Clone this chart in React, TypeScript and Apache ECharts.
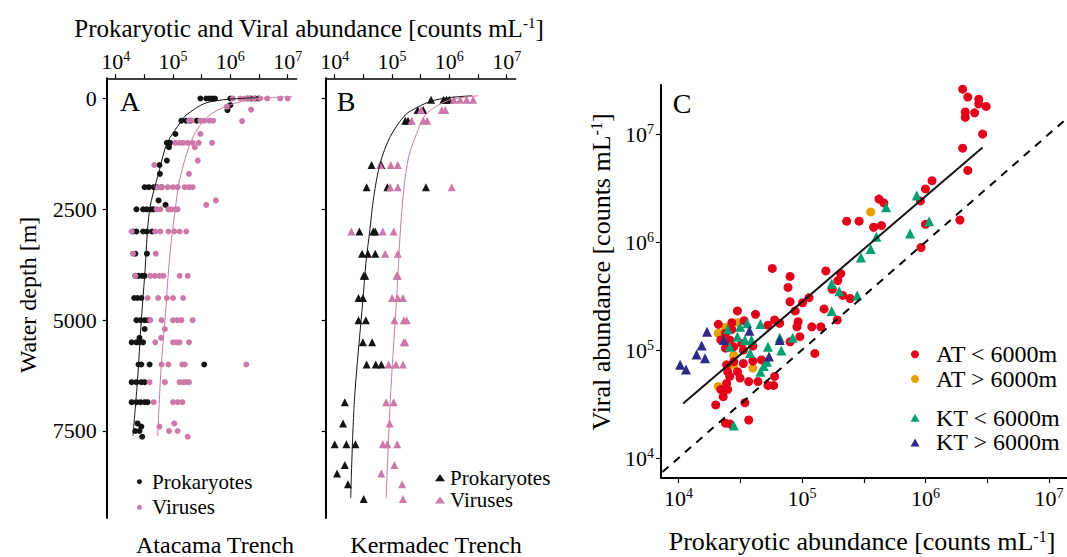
import React, { useEffect, useRef } from "react";
import * as echarts from "echarts";

// ---------------- data ----------------
const depthTicks = [0, 2500, 5000, 7500]; // m
const decadeTicks = [4, 5, 6, 7]; // exponents, labelled 10^n
const halfDecadeTicks = [4, 4.5, 5, 5.5, 6, 6.5, 7];

// [depth m, counts mL-1]
const atacamaProkaryotes: [number, number][] = [
  [0, 3.0e5], [0, 3.8e5], [0, 4.3e5], [0, 4.8e5], [0, 5.4e5], [0, 1.0e6], [0, 2.0e6], [0, 2.3e6], [0, 2.7e6], [0, 3.1e6],
  [150, 1.0e6], [260, 8.9e5],
  [500, 1.4e5], [500, 1.7e5], [500, 2.0e5], [500, 2.6e5], [800, 1.1e5],
  [1000, 7.8e4], [1000, 8.9e4], [1100, 8.5e4], [1400, 7.8e4], [1500, 5.8e4], [1700, 5.9e4],
  [2000, 3.2e4], [2000, 3.8e4], [2000, 4.6e4], [2000, 5.2e4], [2000, 6.3e4], [2300, 5.6e4], [2400, 7.4e4],
  [2500, 2.3e4], [2500, 3.0e4], [2500, 3.5e4], [2500, 4.2e4], [2500, 4.6e4],
  [3000, 2.0e4], [3000, 2.3e4], [3000, 3.0e4], [3000, 3.5e4], [3000, 4.3e4],
  [3500, 2.2e4], [3500, 3.5e4],
  [4000, 2.2e4], [4000, 2.5e4], [4000, 2.9e4], [4000, 3.2e4],
  [4500, 2.1e4], [4500, 2.4e4], [4500, 2.8e4],
  [5000, 2.3e4], [5000, 2.7e4], [5000, 3.2e4], [5000, 3.7e4], [5200, 3.2e4], [5400, 2.6e4],
  [5500, 1.9e4], [5500, 2.3e4], [5500, 2.6e4], [5500, 3.0e4],
  [6000, 2.5e4], [6000, 2.8e4], [6000, 3.9e4], [6000, 3.5e5],
  [6400, 1.9e4], [6400, 2.3e4], [6400, 2.8e4], [6400, 3.2e4],
  [6850, 1.9e4], [6850, 2.3e4], [6850, 2.7e4], [6850, 3.2e4], [6850, 3.6e4],
  [7330, 2.4e4], [7400, 2.8e4], [7500, 2.2e4], [7500, 2.6e4], [7630, 2.9e4],
];

const atacamaViruses: [number, number][] = [
  [0, 1.1e6], [0, 1.5e6], [0, 1.8e6], [0, 2.1e6], [0, 2.6e6], [0, 3.3e6], [0, 4.4e6], [0, 7.4e6], [0, 1.0e7],
  [185, 8.7e5], [250, 2.3e6], [510, 1.6e6],
  [500, 1.9e5], [500, 2.1e5], [500, 3.0e5], [500, 3.5e5], [500, 4.3e5], [500, 5.0e5], [800, 3.0e5],
  [1000, 1.1e5], [1000, 1.3e5], [1000, 1.5e5], [1000, 1.8e5], [1000, 2.2e5], [1000, 2.8e5], [1000, 4.8e5],
  [1100, 2.4e5], [1400, 2.7e5], [1500, 4.7e4], [1700, 1.9e5],
  [2000, 5.2e4], [2000, 6.3e4], [2000, 8.1e4], [2000, 1.0e5], [2000, 1.2e5], [2000, 1.6e5], [2000, 1.9e5], [2000, 2.2e5],
  [2300, 5.6e5], [2400, 3.8e5],
  [2500, 5.2e4], [2500, 6.0e4], [2500, 8.3e4], [2500, 9.3e4], [2500, 1.1e5], [2500, 1.2e5],
  [3000, 1.9e4], [3000, 4.9e4], [3000, 6.0e4], [3000, 8.3e4], [3000, 1.05e5], [3000, 1.3e5], [3000, 1.7e5],
  [3500, 2.0e4], [3500, 5.0e4],
  [4000, 2.2e4], [4000, 4.0e4], [4000, 4.8e4], [4000, 5.8e4], [4000, 6.8e4], [4000, 1.3e5], [4000, 1.8e5],
  [4500, 3.6e4], [4500, 5.5e4], [4500, 7.8e4], [4500, 1.0e5], [4500, 1.5e5],
  [5000, 4.0e4], [5000, 6.3e4], [5000, 1.0e5], [5000, 1.2e5], [5000, 1.4e5], [5000, 2.2e5],
  [5200, 7.2e4], [5400, 6.2e4],
  [5500, 4.9e4], [5500, 1.0e5], [5500, 1.15e5], [5500, 1.3e5], [5500, 1.9e5],
  [6000, 6.3e4], [6000, 8.3e4], [6000, 1.45e5], [6000, 1.6e5], [6000, 1.9e6],
  [6400, 3.9e4], [6400, 7.2e4], [6400, 1.3e5], [6400, 1.5e5], [6400, 1.7e5], [6400, 1.9e5],
  [6850, 4.6e4], [6850, 1.0e5], [6850, 1.2e5], [6850, 1.45e5],
  [7330, 1.05e5], [7400, 5.8e4], [7500, 8.5e4], [7500, 1.2e5], [7630, 1.8e5],
];

const atacamaProkFit: [number, number][] = [
  [-18, 3.1e6], [18, 9.1e5], [108, 3.6e5], [372, 1.7e5], [508, 1.4e5], [1004, 7.9e4], [1613, 5.8e4],
  [2515, 3.9e4], [4004, 3.2e4], [5000, 2.8e4], [6350, 2.4e4], [7610, 2.0e4],
];
const atacamaVirFit: [number, number][] = [
  [-41, 1.2e7], [-5, 3.5e6], [108, 1.2e6], [350, 4.6e5], [711, 2.6e5], [1087, 1.9e5], [1838, 1.3e5],
  [2590, 1.07e5], [3343, 9.1e4], [4094, 8.1e4], [4846, 7.4e4], [6050, 6.2e4], [7613, 5.4e4],
];

const kermadecProkaryotes: [number, number][] = [
  [30, 4.8e5], [30, 7.9e5], [30, 8.9e5], [30, 1.0e6],
  [260, 2.8e5], [260, 3.5e5], [500, 1.7e5], [500, 1.9e5],
  [1500, 4.4e4], [1500, 6.5e4],
  [2000, 3.6e4], [2000, 8.3e4], [2000, 3.9e5],
  [3000, 2.7e4], [3000, 4.7e4], [3000, 5.1e4],
  [3500, 3.0e4], [3500, 3.8e4], [3500, 5.1e4],
  [4000, 3.2e4], [4000, 3.4e4],
  [4500, 2.6e4], [4500, 3.1e4],
  [5000, 2.6e4], [5000, 3.5e4],
  [5500, 3.1e4], [5500, 4.5e4],
  [6000, 3.6e4], [6000, 5.2e4], [6000, 6.5e4],
  [6850, 1.5e4], [7330, 1.4e4],
  [7800, 1.0e4], [7800, 1.6e4], [7800, 2.3e4],
  [8270, 1.5e4], [8460, 1.1e4], [8700, 1.7e4], [9035, 3.2e4],
];

const kermadecViruses: [number, number][] = [
  [30, 1.2e6], [30, 1.55e6], [30, 2.0e6], [30, 2.6e6],
  [260, 3.2e5], [260, 7.4e5], [260, 8.5e5],
  [500, 2.2e5], [500, 3.5e5], [500, 4.1e5],
  [1500, 6.2e4], [1500, 9.5e4], [1500, 1.26e5],
  [2000, 9.3e4], [2000, 1.26e5], [2000, 1.1e6],
  [3000, 1.95e4], [3000, 6.9e4], [3000, 1.07e5],
  [3500, 7.6e4], [3500, 1.26e5],
  [4000, 1.2e5], [4000, 1.26e5],
  [4500, 1.0e5], [4500, 1.26e5], [4500, 1.55e5],
  [5000, 1.1e5], [5000, 1.6e5], [5000, 1.8e5],
  [5500, 1.6e5], [5500, 1.7e5],
  [6000, 8.7e4], [6000, 1.17e5], [6000, 1.55e5],
  [6850, 7.9e4], [6850, 1.07e5], [7330, 9.1e4],
  [7800, 6.9e4], [7800, 8.3e4], [7800, 1.23e5],
  [8270, 1.1e5], [8460, 6.5e4], [8700, 1.5e5], [9035, 1.55e5],
];

const kermadecProkFit: [number, number][] = [
  [-63, 2.5e6], [-18, 9.5e5], [56, 4.9e5], [185, 2.9e5], [372, 1.7e5], [861, 9.3e4], [1462, 6.2e4],
  [2215, 4.8e4], [2966, 4.1e4], [3718, 3.5e4], [4545, 3.1e4], [6840, 2.2e4], [9019, 1.9e4],
];
const kermadecVirFit: [number, number][] = [
  [-63, 3.2e6], [18, 1.1e6], [147, 6.5e5], [372, 3.8e5], [785, 2.7e5], [1313, 1.95e5], [2064, 1.6e5],
  [2966, 1.4e5], [3718, 1.3e5], [4500, 1.2e5], [6840, 9.3e4], [9019, 7.9e4],
];

// [prokaryotic counts mL-1, viral counts mL-1]
const atShallow: [number, number][] = [
  [2.0e6, 2.6e7], [2.2e6, 2.2e7], [2.7e6, 2.1e7], [2.7e6, 1.9e7], [3.1e6, 1.8e7], [2.1e6, 1.6e7], [2.5e6, 1.57e7],
  [2.1e6, 1.43e7], [2.9e6, 1.0e7], [2.0e6, 7.4e6], [2.2e6, 4.6e6], [1.13e6, 3.7e6], [1.0e6, 3.1e6], [4.2e5, 2.5e6],
  [4.6e5, 2.3e6], [9.1e5, 2.4e6], [2.3e5, 1.56e6], [2.9e5, 1.56e6], [3.8e5, 1.37e6], [4.4e5, 1.42e6], [1.0e6, 1.46e6],
  [1.9e6, 1.6e6], [9.2e5, 8.9e5], [1.56e5, 5.4e5], [2.06e5, 5.1e5], [1.95e5, 4.4e5], [1.76e5, 3.65e5], [2.14e5, 3.2e5],
  [2.45e5, 3.0e5], [1.14e5, 3.05e5], [1.01e5, 2.74e5], [1.51e5, 2.4e5], [1.93e5, 1.9e5], [1.2e5, 1.64e5], [1.42e5, 1.64e5],
  [5.75e4, 5.7e5], [8.0e4, 4.8e5], [7.7e4, 3.8e5], [8.0e4, 2.8e5], [8.8e4, 2.3e5], [9.3e4, 1.83e5], [3.0e4, 2.3e5],
  [4.2e4, 2.14e5], [6.0e4, 1.9e5], [5.3e4, 1.7e5], [6.6e4, 1.77e5], [9.1e4, 1.64e5], [9.6e4, 1.33e5], [8.0e4, 1.19e5],
  [1.27e5, 9.3e4], [3.4e4, 1.87e5], [2.1e4, 1.73e5], [2.7e4, 1.79e5], [2.4e4, 1.43e5], [2.2e4, 1.24e5], [2.6e4, 1.24e5],
  [3.25e4, 1.15e5], [4.0e4, 1.09e5], [2.4e4, 1.04e5], [2.8e4, 1.07e5], [3.35e4, 1.0e5], [2.8e4, 7.8e4], [3.35e4, 7.5e4],
  [4.0e4, 7.9e4], [4.7e4, 8.1e4], [2.45e4, 7.3e4], [2.5e4, 6.3e4], [3.0e4, 6.3e4], [2.6e4, 5.7e4], [3.15e4, 5.5e4],
  [3.7e4, 5.1e4], [4.4e4, 5.1e4], [2.45e4, 4.9e4], [2.2e4, 4.3e4], [2.5e4, 4.3e4], [2.3e4, 3.7e4], [5.3e4, 4.7e4],
  [5.9e4, 4.7e4], [6.0e4, 5.7e4], [2.0e4, 3.1e4], [3.45e4, 3.25e4], [3.7e4, 2.25e4], [2.4e4, 2.1e4], [2.6e4, 2.07e4],
  [2.7e4, 1.55e5],
];
const atDeep: [number, number][] = [
  [3.6e5, 1.9e6], [2.4e4, 1.62e5], [2.1e4, 1.43e5], [3.0e4, 1.8e5], [2.8e4, 8.9e4], [2.8e4, 7.3e4], [4.0e4, 6.8e4],
  [2.1e4, 4.6e4],
];
const ktShallow: [number, number][] = [
  [8.5e5, 2.7e6], [4.8e5, 2.1e6], [1.07e6, 1.56e6], [7.5e5, 1.2e6], [4.0e5, 1.12e6], [3.6e5, 8.6e5], [3.0e5, 7.2e5],
  [1.74e5, 4.1e5], [2.0e5, 3.5e5], [2.8e5, 3.2e5], [1.74e5, 2.3e5],
  [2.5e4, 1.56e5], [3.15e4, 1.64e5], [3.6e4, 1.77e5], [4.6e4, 1.74e5], [3.0e4, 1.33e5], [3.45e4, 1.24e5],
  [3.9e4, 1.24e5], [2.6e4, 1.07e5], [3.8e4, 9.4e4], [6.6e4, 1.3e5], [8.4e4, 1.3e5], [6.8e4, 9.9e4], [5.3e4, 1.07e5],
  [5.2e4, 7.8e4], [4.9e4, 7.1e4], [4.6e4, 6.3e4], [2.8e4, 2.0e4],
];
const ktDeep: [number, number][] = [
  [1.7e4, 1.48e5], [1.54e4, 1.1e5], [1.4e4, 9.1e4], [1.64e4, 8.4e4], [1.03e4, 7.3e4], [1.15e4, 6.6e4],
  [2.33e4, 1.24e5], [3.75e4, 1.51e5], [5.4e4, 8.7e4], [6.6e4, 1.24e5],
];
const regressionLine: [number, number][] = [[1.09e4, 3.2e4], [2.9e6, 7.5e6]];
const oneToOneLine: [number, number][] = [[6.0e3, 6.0e3], [1.6e7, 1.6e7]];

// ---------------- style ----------------
const FONT = '"Liberation Serif", "Times New Roman", serif';
const BLACK = "#141414";
const PINK = "#CC79A7";
const RED = "#E2001A";
const ORANGE = "#E69F00";
const GREEN = "#009E73";
const NAVY = "#2E2A85";

const depthXY = (arr: [number, number][]) => arr.map(([d, c]) => [Math.log10(c), d]);
const logXY = (arr: [number, number][]) => arr.map(([p, v]) => [Math.log10(p), Math.log10(v)]);

const pow10 = (v: number) => `{b|10}{s|${Math.round(v)}}`;
const tickRich = {
  b: { fontSize: 22, fontFamily: FONT, color: "#000", lineHeight: 24 },
  s: { fontSize: 14, fontFamily: FONT, color: "#000", lineHeight: 13, verticalAlign: "top" },
};
const supRich = (size: number) => ({
  s: { fontSize: Math.round(size * 0.6), fontFamily: FONT, fill: "#000", lineHeight: Math.round(size * 0.55), verticalAlign: "top" },
});

function depthGrid(index: number) {
  return {
    x: {
      gridIndex: index, type: "value", position: "top", min: 3.843, max: 7.157,
      axisLine: { show: true, onZero: false, lineStyle: { color: "#000", width: 1.5 } },
      axisTick: { show: true, inside: false, length: 4, customValues: halfDecadeTicks, lineStyle: { color: "#000", width: 1.2 } },
      axisLabel: { show: true, customValues: decadeTicks, formatter: pow10, rich: tickRich, margin: 5 },
      splitLine: { show: false },
    },
    y: {
      gridIndex: index, type: "value", inverse: true, min: -456, max: 9463,
      axisLine: { show: true, onZero: false, lineStyle: { color: "#000", width: 2 } },
      axisTick: { show: true, inside: false, length: 4, customValues: depthTicks, lineStyle: { color: "#000", width: 1.2 } },
      axisLabel: {
        show: index === 0, customValues: depthTicks, formatter: (v: number) => String(v),
        fontSize: 22, fontFamily: FONT, color: "#000", margin: 10,
      },
      splitLine: { show: false },
    },
  };
}

function text(x: number, y: number, t: string, size: number, extra: any = {}) {
  return {
    type: "text", x, y, ...extra,
    style: { text: t, fontSize: size, fontFamily: FONT, fill: "#000", align: extra.align || "center", verticalAlign: "middle", rich: supRich(size) },
  };
}

const solid = (color: string) => ({ color, opacity: 1 });

function buildOption(): any {
  const gA = depthGrid(0);
  const gB = depthGrid(1);
  const scatterBase = { type: "scatter", symbol: "circle" };
  return {
    animation: false,
    backgroundColor: "#fff",
    grid: [
      { left: 106.7, top: 78.3, width: 190, height: 439.7 },
      { left: 325.7, top: 78.3, width: 190, height: 439.7 },
      { left: 661, top: 85, width: 406, height: 393 },
    ],
    xAxis: [
      gA.x, gB.x,
      {
        gridIndex: 2, type: "value", position: "bottom", min: 3.858, max: 7.146,
        axisLine: { show: true, onZero: false, lineStyle: { color: "#000", width: 2 } },
        axisTick: { show: true, inside: false, length: 5, customValues: halfDecadeTicks, lineStyle: { color: "#000", width: 1.2 } },
        axisLabel: { show: true, customValues: decadeTicks, formatter: pow10, rich: tickRich, margin: 8 },
        splitLine: { show: false },
      },
    ],
    yAxis: [
      gA.y, gB.y,
      {
        gridIndex: 2, type: "value", min: 3.815, max: 7.454,
        axisLine: { show: true, onZero: false, lineStyle: { color: "#000", width: 2 } },
        axisTick: { show: true, inside: false, length: 5, customValues: decadeTicks, lineStyle: { color: "#000", width: 1.2 } },
        axisLabel: { show: true, customValues: decadeTicks, formatter: pow10, rich: tickRich, margin: 7 },
        splitLine: { show: false },
      },
    ],
    legend: [
      {
        data: [{ name: "Prokaryotes", icon: "circle" }, { name: "Viruses", icon: "circle" }],
        orient: "vertical", left: 137, top: 470.7, itemWidth: 15, itemHeight: 5, itemGap: 3.6, padding: 0,
        selectedMode: false, textStyle: { fontSize: 21, fontFamily: FONT, color: "#000", lineHeight: 22 },
      },
      {
        data: [{ name: "Prokaryotes", icon: "triangle" }, { name: "Viruses", icon: "triangle" }],
        orient: "vertical", left: 435, top: 466.7, itemWidth: 10, itemHeight: 7, itemGap: 0.3, padding: 0,
        selectedMode: false, textStyle: { fontSize: 21, fontFamily: FONT, color: "#000", lineHeight: 22 },
      },
      {
        data: [{ name: "AT < 6000m", icon: "circle" }, { name: "AT > 6000m", icon: "circle" }],
        orient: "vertical", left: 911, top: 342.3, itemWidth: 8, itemHeight: 8, itemGap: 0.7, padding: 0,
        selectedMode: false,
        textStyle: { fontSize: 24, fontFamily: FONT, color: "#000", lineHeight: 22, padding: [0, 0, 0, 12] },
      },
      {
        data: [{ name: "KT < 6000m", icon: "triangle" }, { name: "KT > 6000m", icon: "triangle" }],
        orient: "vertical", left: 910.5, top: 405.7, itemWidth: 9, itemHeight: 8, itemGap: 0.7, padding: 0,
        selectedMode: false,
        textStyle: { fontSize: 24, fontFamily: FONT, color: "#000", lineHeight: 22, padding: [0, 0, 0, 11.5] },
      },
    ],
    series: [
      { ...scatterBase, name: "Prokaryotes", xAxisIndex: 0, yAxisIndex: 0, symbolSize: 6, itemStyle: solid(BLACK), data: depthXY(atacamaProkaryotes) },
      { ...scatterBase, name: "Viruses", xAxisIndex: 0, yAxisIndex: 0, symbolSize: 6, itemStyle: solid(PINK), data: depthXY(atacamaViruses) },
      { type: "line", name: "fitAP", xAxisIndex: 0, yAxisIndex: 0, showSymbol: false, symbol: "none", smooth: 0.3, lineStyle: { color: BLACK, width: 1 }, data: depthXY(atacamaProkFit), z: 5 },
      { type: "line", name: "fitAV", xAxisIndex: 0, yAxisIndex: 0, showSymbol: false, symbol: "none", smooth: 0.3, lineStyle: { color: PINK, width: 1 }, data: depthXY(atacamaVirFit), z: 5 },
      { ...scatterBase, symbol: "triangle", name: "Prokaryotes", xAxisIndex: 1, yAxisIndex: 1, symbolSize: 8, itemStyle: solid(BLACK), data: depthXY(kermadecProkaryotes) },
      { ...scatterBase, symbol: "triangle", name: "Viruses", xAxisIndex: 1, yAxisIndex: 1, symbolSize: 8, itemStyle: solid(PINK), data: depthXY(kermadecViruses) },
      { type: "line", name: "fitKP", xAxisIndex: 1, yAxisIndex: 1, showSymbol: false, symbol: "none", smooth: 0.3, lineStyle: { color: BLACK, width: 1 }, data: depthXY(kermadecProkFit), z: 5 },
      { type: "line", name: "fitKV", xAxisIndex: 1, yAxisIndex: 1, showSymbol: false, symbol: "none", smooth: 0.3, lineStyle: { color: PINK, width: 1 }, data: depthXY(kermadecVirFit), z: 5 },
      { ...scatterBase, name: "AT > 6000m", xAxisIndex: 2, yAxisIndex: 2, symbolSize: 9, itemStyle: solid(ORANGE), data: logXY(atDeep) },
      { ...scatterBase, name: "AT < 6000m", xAxisIndex: 2, yAxisIndex: 2, symbolSize: 9, itemStyle: solid(RED), data: logXY(atShallow) },
      { ...scatterBase, symbol: "triangle", name: "KT < 6000m", xAxisIndex: 2, yAxisIndex: 2, symbolSize: 10, itemStyle: solid(GREEN), data: logXY(ktShallow) },
      { ...scatterBase, symbol: "triangle", name: "KT > 6000m", xAxisIndex: 2, yAxisIndex: 2, symbolSize: 10, itemStyle: solid(NAVY), data: logXY(ktDeep) },
      { type: "line", name: "regression", xAxisIndex: 2, yAxisIndex: 2, showSymbol: false, symbol: "none", clip: true, lineStyle: { color: BLACK, width: 2 }, data: logXY(regressionLine), z: 6 },
      { type: "line", name: "1:1", xAxisIndex: 2, yAxisIndex: 2, showSymbol: false, symbol: "none", clip: true, lineStyle: { color: "#000", width: 2, type: [8, 7] }, data: logXY(oneToOneLine), z: 6 },
    ],
    graphic: [
      text(309, 28, "Prokaryotic and Viral abundance [counts mL{s|-1}]", 25),
      text(28, 295, "Water depth [m]", 24, { rotation: Math.PI / 2 }),
      text(130, 101, "A", 28),
      text(346, 101, "B", 28),
      text(682, 103, "C", 28),
      text(215, 545, "Atacama Trench", 24),
      text(436, 545, "Kermadec Trench", 24),
      text(601, 272, "Viral abundance [counts mL{s|-1}]", 26, { rotation: Math.PI / 2 }),
      text(862, 541, "Prokaryotic abundance [counts mL{s|-1}]", 26),
    ],
  };
}

export default function App() {
  const ref = useRef<HTMLDivElement>(null);
  useEffect(() => {
    if (!ref.current) return;
    const chart = echarts.init(ref.current, null, { renderer: "svg" });
    chart.setOption(buildOption());
    return () => chart.dispose();
  }, []);
  return (
    <div
      ref={ref}
      style={{ position: "absolute", left: 0, top: 0, width: 1067, height: 557, background: "#fff" }}
    />
  );
}
